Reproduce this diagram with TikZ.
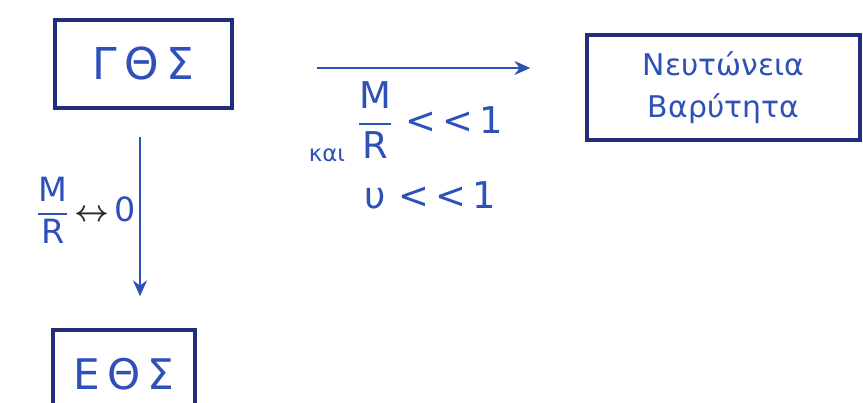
\documentclass[tikz,border=0pt]{standalone}
\usepackage{amsmath}
\usepackage{fontspec}
\setmainfont{DejaVu Sans}
\usetikzlibrary{arrows.meta, positioning}
\definecolor{InkBlue}{RGB}{45, 80, 185}
\definecolor{InkNavy}{RGB}{35, 45, 125}
\definecolor{PenBlack}{RGB}{40, 40, 40}

\begin{document}
\begin{tikzpicture}[
        theory/.style={draw=InkNavy, line width=2pt, text=InkBlue, align=center, inner sep=0pt},
        limit/.style={-{Stealth[length=9pt, width=8pt]}, line width=1.2pt, InkBlue},
        cond/.style={text=InkBlue, inner sep=0pt, font=\fontsize{21}{25}\selectfont}
    ]
        \clip (0,0) rectangle (17.26,-8.06);
        \useasboundingbox (0,0) rectangle (17.26,-8.06);

        \node[theory, minimum width=3.54cm, minimum height=1.76cm, font=\fontsize{25}{30}\selectfont] (gthos) at (2.87,-1.28) {Γ\,Θ\,Σ};
        \node[theory, minimum width=5.46cm, minimum height=2.1cm, font=\fontsize{17}{24}\selectfont] (newton) at (14.47,-1.75) {Νευτώνεια\\ Βαρύτητα};
        \node[theory, minimum width=2.84cm, minimum height=1.76cm, font=\fontsize{24}{28}\selectfont, text depth=0pt] (ethos) at (2.48,-7.48) {Ε\,Θ\,Σ};

        \draw[limit, shorten <=1.66cm, shorten >=1.1cm] ([yshift=-0.08cm]gthos.east) -- ([yshift=-0.08cm]gthos.east -| newton.west);
        \draw[limit, shorten <=0.54cm, shorten >=0.64cm] ([xshift=-0.07cm]gthos.south) -- ([xshift=-0.07cm]gthos.south |- ethos.north);

        \node[cond] (small1) at (8.6,-2.4) {$\displaystyle\frac{\mathrm{M}}{\mathrm{R}}$\,\,<{}\,<{}\,1};
        \node[cond, font=\fontsize{13}{15}\selectfont] (kai) at (6.54,-3.1) {και};
        \node[cond] (small2) at (8.6,-3.9) {υ\,\,<{}\,<{}\,1};
        \node[cond, anchor=east, font=\fontsize{19}{22}\selectfont] (lim) at (2.72,-4.2) {$\displaystyle\frac{\mathrm{M}}{\mathrm{R}}\,\textcolor{PenBlack}{\boldsymbol{\leftrightarrow}}\,$0};
    \end{tikzpicture}
\end{document}
